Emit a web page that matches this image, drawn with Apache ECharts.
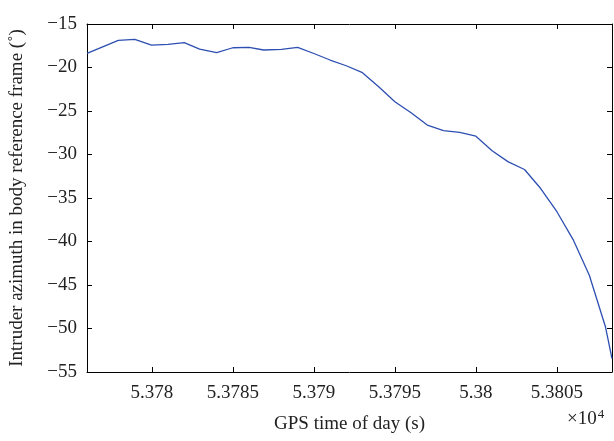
<!DOCTYPE html>
<html>
<head>
<meta charset="utf-8">
<script src="https://cdn.jsdelivr.net/npm/echarts@6/dist/echarts.min.js"></script>
<style>
  html, body { margin: 0; padding: 0; background: #fff; }
  #chart { width: 614px; height: 441px; }
</style>
</head>
<body>
<div id="chart"></div>
<script>
// GPS time of day (s) for each sample
const gpsTime = [
  53776.0, 53777.93, 53778.95, 53779.98, 53781.0, 53782.0, 53782.95, 53784.0,
  53785.0, 53786.0, 53786.9, 53788.0, 53789.0, 53790.0, 53791.0, 53792.0,
  53793.0, 53794.0, 53795.0, 53796.0, 53797.0, 53798.0, 53799.0, 53800.0,
  53801.0, 53802.0, 53803.0, 53804.0, 53805.0, 53806.0, 53807.0, 53808.0, 53808.4
];
// Intruder azimuth in body reference frame (degrees)
const azimuth = [
  -18.37, -16.88, -16.76, -17.42, -17.34, -17.15, -17.88, -18.30,
  -17.73, -17.68, -17.99, -17.91, -17.68, -18.39, -19.14, -19.80,
  -20.60, -22.22, -23.94, -25.20, -26.62, -27.26, -27.45, -27.89,
  -29.56, -30.85, -31.72, -33.91, -36.58, -39.78, -43.88, -49.83, -53.47
];
// Tick positions along each axis
const xTicks = [53780, 53785, 53790, 53795, 53800, 53805];
const yTicks = [-55, -50, -45, -40, -35, -30, -25, -20, -15];

const FONT = '"Liberation Serif", "DejaVu Serif", serif';
const minus = s => String(s).replace('-', '\u2212');

const chart = echarts.init(document.getElementById('chart'), null, { renderer: 'canvas' });

const tickStyle = { show: true, inside: true, length: 5, lineStyle: { color: '#000', width: 1 } };
const lineStyle = { show: true, onZero: false, lineStyle: { color: '#000', width: 1 } };

chart.setOption({
  animation: false,
  backgroundColor: '#fff',
  grid: { left: 85, right: 2, top: 24, bottom: 69, containLabel: false },
  xAxis: [
    {
      type: 'value', position: 'bottom',
      min: gpsTime[0], max: gpsTime[gpsTime.length - 1],
      axisLine: lineStyle,
      axisTick: Object.assign({ customValues: xTicks }, tickStyle),
      axisLabel: {
        customValues: xTicks, margin: 12,
        fontFamily: FONT, fontSize: 19, color: '#222',
        formatter: v => String(parseFloat((v / 1e4).toFixed(5)))
      },
      splitLine: { show: false },
      name: 'GPS time of day (s)', nameLocation: 'middle', nameGap: 43,
      nameTextStyle: { fontFamily: FONT, fontSize: 19, color: '#222' }
    },
    {
      type: 'value', position: 'top',
      min: gpsTime[0], max: gpsTime[gpsTime.length - 1],
      axisLine: lineStyle,
      axisTick: Object.assign({ customValues: xTicks }, tickStyle),
      axisLabel: { show: false },
      splitLine: { show: false }
    }
  ],
  yAxis: [
    {
      type: 'value', position: 'left',
      min: yTicks[0], max: yTicks[yTicks.length - 1], interval: 5,
      axisLine: lineStyle,
      axisTick: tickStyle,
      axisLabel: {
        margin: 10, fontFamily: FONT, fontSize: 19, color: '#222',
        formatter: v => minus(v)
      },
      splitLine: { show: false },
      name: 'Intruder azimuth in body reference frame (\u02DA)',
      nameLocation: 'middle', nameGap: 60, nameRotate: 90,
      nameTextStyle: { fontFamily: FONT, fontSize: 19, color: '#222' }
    },
    {
      type: 'value', position: 'right',
      min: yTicks[0], max: yTicks[yTicks.length - 1], interval: 5,
      axisLine: lineStyle,
      axisTick: tickStyle,
      axisLabel: { show: false },
      splitLine: { show: false }
    }
  ],
  graphic: [
    {
      type: 'text', left: 567, top: 408,
      style: {
        text: '\u00D710{sup|4}',
        fontFamily: FONT, fontSize: 19, fill: '#222',
        rich: { sup: { fontFamily: FONT, fontSize: 13, fill: '#222', verticalAlign: 'top', padding: [0, 0, 10, 1] } }
      }
    }
  ],
  series: [
    {
      type: 'line',
      data: gpsTime.map((t, i) => [t, azimuth[i]]),
      showSymbol: false,
      lineStyle: { color: '#2d4fb1', width: 1.3 },
      clip: true
    }
  ]
});
</script>
</body>
</html>
